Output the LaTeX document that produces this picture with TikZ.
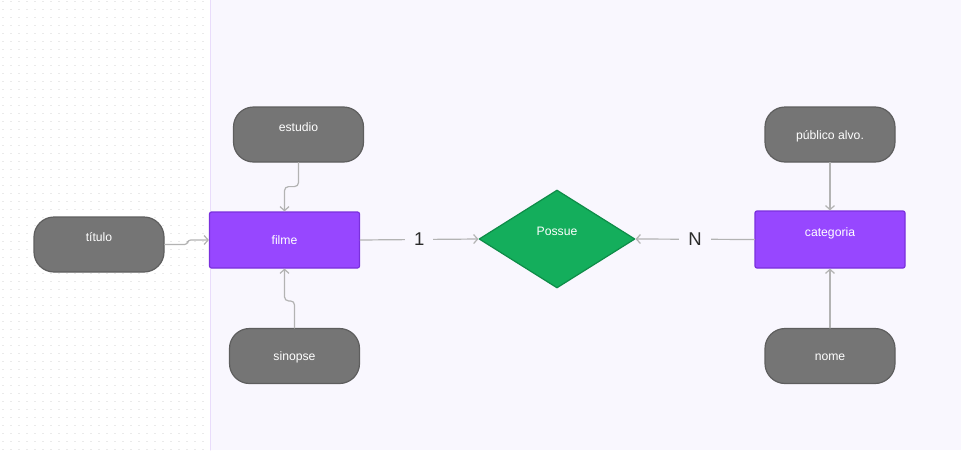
\documentclass[tikz,border=0pt]{standalone}
\usepackage{fontspec}
\setmainfont{Liberation Sans}
\usetikzlibrary{shapes.geometric,arrows.meta}
\definecolor{canvas}{HTML}{F9F7FE}
\definecolor{canvasedge}{HTML}{E9DCFB}
\definecolor{dotgray}{HTML}{EAEAEA}
\definecolor{attrfill}{HTML}{757575}
\definecolor{attrline}{HTML}{5E5E5E}
\definecolor{entfill}{HTML}{9747FF}
\definecolor{entline}{HTML}{7A30DD}
\definecolor{relfill}{HTML}{14AE5C}
\definecolor{relline}{HTML}{0E8C48}
\definecolor{linkgray}{HTML}{B3B3B3}
\definecolor{cardtext}{HTML}{2B2B2B}
\begin{document}
\begin{tikzpicture}[x=1pt, y=-1pt, font=\fontsize{12.2}{14}\selectfont, line join=round, line cap=round,
	>={Straight Barb[length=4pt,width=9pt]},
	attr/.style={draw=attrline, fill=attrfill, line width=1.2pt, rounded corners=20pt, minimum width=130pt, minimum height=55pt, text=white, inner sep=0pt},
	ent/.style={draw=entline, fill=entfill, line width=1.2pt, rounded corners=2pt, minimum width=150pt, minimum height=56pt, text=white, inner sep=0pt},
	rel/.style={diamond, draw=relline, fill=relfill, line width=1.2pt, minimum width=156pt, minimum height=98pt, text=white, inner sep=0pt},
	textmid/.style={text height=9pt, text depth=0pt},
	textup/.style={text height=9pt, text depth=16pt},
	link/.style={draw=linkgray, line width=1.2pt, ->},
	card/.style={fill=canvas, text=cardtext, font=\fontsize{18.5}{20}\selectfont, inner xsep=9pt, inner ysep=2pt}]
	% fundo
	\useasboundingbox (0,0) rectangle (961,450);
	\fill[white] (0,0) rectangle (961,450);
	\foreach \i in {0,...,25}
	\foreach \j in {0,...,56}
	\fill[dotgray] (2+8*\i,0.7+8*\j) rectangle ++(1.5,1.5);
	\fill[canvas] (210,0) rectangle (961,450);
	\draw[canvasedge, line width=1pt] (210.5,0) -- (210.5,450);
	% entidades e relacionamento
	\node[ent, textmid] (filme) at (284.5,240) {filme};
	\node[ent, textup, minimum height=57pt] (categoria) at (830,239.5) {categoria};
	\node[rel, textup] (possue) at (557,239) {Possue};
	% atributos
	\foreach \n/\x/\y/\t/\s in {titulo/99/244.5/título/textup, estudio/298.5/134.5/estudio/textup,
		sinopse/294.5/356/sinopse/textmid, publico/830/134.5/público alvo./textmid, nome/830/356/nome/textmid}
	\node[attr, \s] (\n) at (\x,\y) {\t};
	% ligacoes
	\draw[link, rounded corners=3pt] (titulo.east) -- ++(23,0) |- (filme.west);
	\draw[link, rounded corners=4pt] (estudio.south) -- ++(0,24) -| (filme.north);
	\draw[link, rounded corners=4pt] (sinopse.north) -- ++(0,-27) -| (filme.south);
	\draw[link] (publico.south) -- (categoria.north);
	\draw[link] (nome.north) -- (categoria.south);
	\draw[link] (filme.east) -- node[card]{1} (possue.west);
	\draw[link] (categoria.west) -- node[card]{N} (possue.east);
\end{tikzpicture}
\end{document}
